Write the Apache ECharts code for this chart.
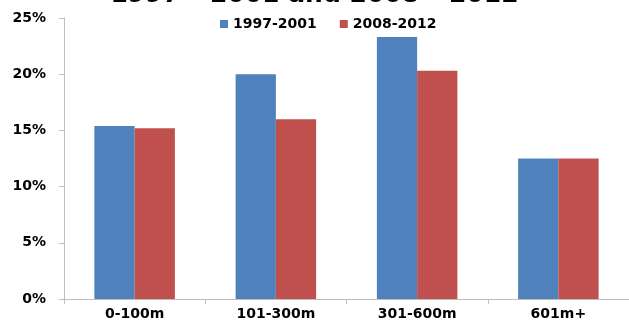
<!DOCTYPE html>
<html>
<head>
<meta charset="utf-8">
<style>
  html, body { margin: 0; padding: 0; background: #fff; }
  #chart { width: 629px; height: 324px; }
</style>
<script src="https://cdn.jsdelivr.net/npm/echarts@6/dist/echarts.min.js"></script>
</head>
<body>
<div id="chart"></div>
<script>
// Distance bands and share of moves in each period (%)
const categories = ['0-100m', '101-300m', '301-600m', '601m+'];
const period1 = [15.4, 20.0, 23.3, 12.5];   // 1997-2001
const period2 = [15.2, 16.0, 20.3, 12.5];   // 2008-2012
const seriesNames = ['1997-2001', '2008-2012'];
const titleText = '1997 \u2013 2001 and 2008 \u2013 2012';

const font = 'DejaVu Sans, Verdana, sans-serif';
const axisGrey = '#bfbfbf';

const chart = echarts.init(document.getElementById('chart'), null, { renderer: 'canvas' });
chart.setOption({
  animation: false,
  title: {
    text: titleText,
    left: 'center',
    top: -22,
    textStyle: { fontFamily: font, fontWeight: 'bold', fontSize: 25, color: '#000' }
  },
  legend: {
    data: seriesNames,
    top: 17,
    left: 220,
    padding: 0,
    itemWidth: 8,
    itemHeight: 8,
    itemGap: 23,
    icon: 'rect',
    textStyle: { fontFamily: font, fontWeight: 'bold', fontSize: 14, color: '#000' }
  },
  grid: { left: 64, right: 0, top: 18, bottom: 25, containLabel: false },
  xAxis: {
    type: 'category',
    data: categories,
    axisLine: { lineStyle: { color: axisGrey, width: 1 } },
    axisTick: { show: true, length: 5, lineStyle: { color: axisGrey } },
    axisLabel: { fontFamily: font, fontWeight: 'bold', fontSize: 14, color: '#000', margin: 8 }
  },
  yAxis: {
    type: 'value',
    min: 0,
    max: 25,
    interval: 5,
    axisLine: { show: true, lineStyle: { color: axisGrey, width: 1 } },
    axisTick: { show: true, length: 5, lineStyle: { color: axisGrey } },
    splitLine: { show: false },
    axisLabel: {
      fontFamily: font, fontWeight: 'bold', fontSize: 14, color: '#000', margin: 18,
      formatter: v => v + '%'
    }
  },
  series: [
    {
      name: seriesNames[0],
      type: 'bar',
      data: period1,
      barGap: '0%',
      barCategoryGap: '43%',
      itemStyle: { color: '#4f81bd' }
    },
    {
      name: seriesNames[1],
      type: 'bar',
      data: period2,
      itemStyle: { color: '#c0504d' }
    }
  ]
});
</script>
</body>
</html>
